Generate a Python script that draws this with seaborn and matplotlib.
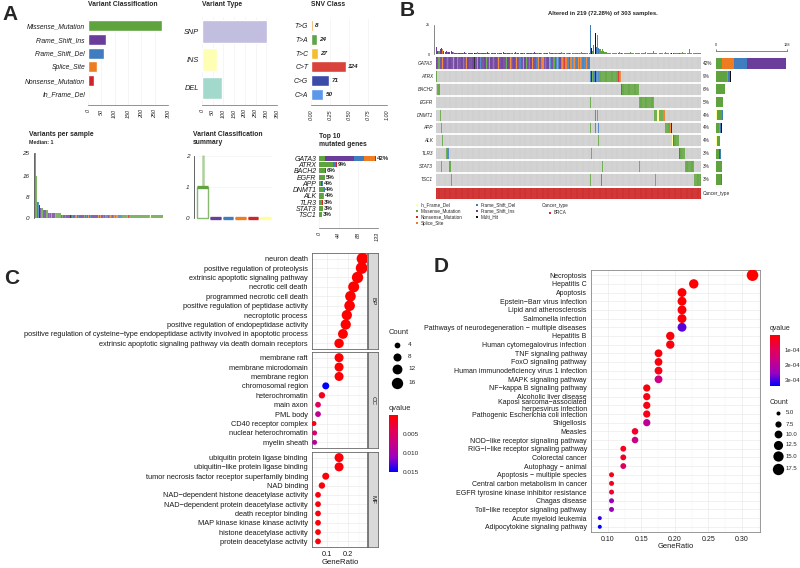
import numpy as np
import matplotlib
matplotlib.use("Agg")
import matplotlib.pyplot as plt
from matplotlib.colors import ListedColormap, LinearSegmentedColormap, Normalize
from matplotlib.cm import ScalarMappable
from matplotlib.ticker import MultipleLocator
import seaborn as sns

sns.set_style("white")
plt.rcParams["font.family"] = ["Liberation Sans", "DejaVu Sans"]
plt.rcParams["axes.linewidth"] = 0.5

W, H = 800, 568

# ---------------- A: MAF summary ----------------
vc_classes = ["Missense_Mutation", "Frame_Shift_Ins", "Frame_Shift_Del",
              "Splice_Site", "Nonsense_Mutation", "In_Frame_Del"]
vc_counts = [277, 67, 60, 34, 22, 6]

vt_types = ["SNP", "INS", "DEL"]
vt_counts = [303, 68, 93]

snv_classes = ["T>G", "T>A", "T>C", "C>T", "C>G", "C>A"]
snv_counts = [8, 24, 27, 124, 71, 50]
snv_fraction = [0.026, 0.079, 0.089, 0.46, 0.234, 0.164]

# variant classification summary (per-sample box stats)
box_q1 = [0, 0, 0, 0, 0, 0]
box_med = [1, 0, 0, 0, 0, 0]
box_q3 = [1, 0, 0, 0, 0, 0]
box_hi = [2, 0, 0, 0, 0, 0]

top_genes = ["GATA3", "ATRX", "BACH2", "EGFR", "APP", "DNMT1", "ALK", "TLR3", "STAT3", "TSC1"]
top_pct = ["42%", "9%", "6%", "5%", "4%", "4%", "4%", "3%", "3%", "3%"]
top_missense = [13, 32, 13, 13, 5, 11, 9, 7, 8, 7]
top_fs_ins = [66, 0, 0, 0, 2, 0, 0, 0, 0, 0]
top_fs_del = [23, 5, 0, 0, 2, 1, 0, 0, 0, 0]
top_splice = [25, 0, 0, 0, 0, 0, 2, 0, 0, 0]
top_nonsense = [2, 4, 2, 0, 0, 0, 0, 1, 0, 0]

# ---------------- B: oncoplot ----------------
onco_genes = ["GATA3", "ATRX", "BACH2", "EGFR", "DNMT1", "APP", "ALK", "TLR3", "STAT3", "TSC1"]
onco_pct = ["42%", "9%", "6%", "5%", "4%", "4%", "4%", "3%", "3%", "3%"]
# G missense, P fs_ins, B fs_del, O splice, R nonsense, Y in_frame_del, M multi_hit
onco_blocks = [
    "PPGPPOPPPB" "PPPPOPPGPP" "PPBPPOPPPP" "PMPPOPBPPP" "PGPPOPPBPP"
    "POPPPPPPGP" "POBPPPOPPB" "PPOPGPPBPO" "PPPBOPPGOP" "BPPOBPPGPB"
    "OBPGOBROBB" "POBGOBBOBO" "GBBBOBB",
    "BMGBMBGBGGGGGGGGGGGGGGGRGO",
    "RGGGGGGGGGGGGGG",
    "GGGGGGGGGGGG",
    "GGGYGGGGO",
    "GGGGOM",
    "YRGGGG",
    "RGGGG",
    "GGGGGGG",
    "GGGGGG",
]
onco_extra = [
    [],
    [(0, "G")],
    [(1, "G"), (2, "G")],
    [(127, "G")],
    [(3, "G"), (131, "B"), (133, "G")],
    [(4, "G"), (127, "G"), (131, "B"), (134, "B")],
    [(5, "G"), (134, "G")],
    [(8, "G"), (9, "B"), (10, "B"), (128, "G")],
    [(4, "G"), (11, "G"), (137, "G"), (168, "G")],
    [(12, "G"), (127, "G"), (136, "B"), (181, "G")],
]
total_samples = 303
# variants per sample, in oncoplot column order, as (value, repeat)
tmb_runs = [(6, 1), (3, 2), (4, 1), (5, 1), (4, 1), (3, 1), (2, 1), (3, 1), (2, 3), (3, 1), (2, 2),
            (1, 8), (2, 1), (1, 10), (2, 1), (1, 7), (2, 1), (1, 12), (2, 1), (1, 9), (2, 1),
            (1, 15), (2, 1), (1, 11), (2, 1), (1, 9), (2, 1), (1, 16), (2, 1), (1, 6),
            (25, 1), (5, 1), (3, 1), (8, 1), (18, 1), (6, 1), (16, 1), (5, 1), (4, 1), (3, 1),
            (4, 1), (3, 1), (2, 2),
            (1, 10), (2, 1), (1, 8), (2, 1), (1, 12), (2, 1), (1, 5), (3, 1), (1, 9), (2, 1),
            (1, 13), (2, 1), (1, 5), (4, 1), (1, 9)]

# ---------------- C: GO enrichment ----------------
bp_terms = ["neuron death", "positive regulation of proteolysis",
            "extrinsic apoptotic signaling pathway", "necrotic cell death",
            "programmed necrotic cell death", "positive regulation of peptidase activity",
            "necroptotic process", "positive regulation of endopeptidase activity",
            "positive regulation of cysteine\u2212type endopeptidase activity involved in apoptotic process",
            "extrinsic apoptotic signaling pathway via death domain receptors"]
bp_ratio = [0.266, 0.262, 0.243, 0.225, 0.21, 0.206, 0.193, 0.188, 0.175, 0.157]
bp_count = [17, 17, 16, 15, 14, 14, 13, 13, 12, 11]
bp_q = [1e-6, 1e-6, 1e-6, 1e-6, 1e-6, 1e-6, 1e-6, 1e-6, 1e-6, 1e-6]

cc_terms = ["membrane raft", "membrane microdomain", "membrane region", "chromosomal region",
            "heterochromatin", "main axon", "PML body", "CD40 receptor complex",
            "nuclear heterochromatin", "myelin sheath"]
cc_ratio = [0.157, 0.157, 0.157, 0.095, 0.077, 0.059, 0.059, 0.040, 0.043, 0.043]
cc_count = [10, 10, 10, 6, 5, 4, 4, 3, 3, 3]
cc_q = [2e-4, 2e-4, 2e-4, 0.0151, 0.0015, 0.0045, 0.0083, 0.0008, 0.005, 0.009]

mf_terms = ["ubiquitin protein ligase binding", "ubiquitin\u2212like protein ligase binding",
            "tumor necrosis factor receptor superfamily binding", "NAD binding",
            "NAD\u2212dependent histone deacetylase activity",
            "NAD\u2212dependent protein deacetylase activity", "death receptor binding",
            "MAP kinase kinase kinase activity", "histone deacetylase activity",
            "protein deacetylase activity"]
mf_ratio = [0.157, 0.157, 0.095, 0.077, 0.059, 0.059, 0.059, 0.059, 0.059, 0.059]
mf_count = [10, 10, 6, 5, 4, 4, 4, 4, 4, 4]
mf_q = [5e-4, 5e-4, 5e-4, 5e-4, 5e-4, 5e-4, 5e-4, 5e-4, 5e-4, 5e-4]

# ---------------- D: KEGG enrichment ----------------
kegg_terms = ["Necroptosis", "Hepatitis C", "Apoptosis", "Epstein\u2212Barr virus infection",
              "Lipid and atherosclerosis", "Salmonella infection",
              "Pathways of neurodegeneration \u2212 multiple diseases", "Hepatitis B",
              "Human cytomegalovirus infection", "TNF signaling pathway", "FoxO signaling pathway",
              "Human immunodeficiency virus 1 infection", "MAPK signaling pathway",
              "NF\u2212kappa B signaling pathway", "Alcoholic liver disease",
              "Kaposi sarcoma\u2212associated\nherpesvirus infection",
              "Pathogenic Escherichia coli infection", "Shigellosis", "Measles",
              "NOD\u2212like receptor signaling pathway", "RIG\u2212I\u2212like receptor signaling pathway",
              "Colorectal cancer", "Autophagy \u2212 animal", "Apoptosis \u2212 multiple species",
              "Central carbon metabolism in cancer", "EGFR tyrosine kinase inhibitor resistance",
              "Chagas disease", "Toll\u2212like receptor signaling pathway",
              "Acute myeloid leukemia", "Adipocytokine signaling pathway"]
kegg_count = [18, 13, 12, 12, 12, 12, 12, 11, 11, 10, 10, 10, 10, 9, 9, 9, 9, 9, 8, 8,
              7, 7, 7, 6, 6, 6, 6, 6, 5, 5]
kegg_q = [0.0, 0.05e-4, 0.05e-4, 0.05e-4, 0.1e-4, 0.1e-4, 2.9e-4, 0.1e-4, 0.15e-4, 0.1e-4,
          0.15e-4, 0.2e-4, 1.6e-4, 0.1e-4, 0.2e-4, 0.2e-4, 0.25e-4, 1.9e-4, 0.5e-4, 1.6e-4,
          0.3e-4, 0.4e-4, 1.1e-4, 0.2e-4, 0.4e-4, 0.6e-4, 2.5e-4, 2.5e-4, 3.1e-4, 3.41e-4]
kegg_total = 57  # GeneRatio = Count / 57

# ---------------- colours ----------------
mut_colors = {"Missense_Mutation": "#5FA33E", "Frame_Shift_Ins": "#6A3D9A",
              "Frame_Shift_Del": "#3F7DBF", "Splice_Site": "#EE7D22",
              "Nonsense_Mutation": "#D3232A", "In_Frame_Del": "#FFFF99", "Multi_Hit": "#111111"}
code_class = {"G": "Missense_Mutation", "P": "Frame_Shift_Ins", "B": "Frame_Shift_Del",
              "O": "Splice_Site", "R": "Nonsense_Mutation", "Y": "In_Frame_Del", "M": "Multi_Hit"}
codes = "GPBORYM"
cmap_rb = LinearSegmentedColormap.from_list(
    "rb", ["#FF0000", "#E7004F", "#C80088", "#9900C2", "#0000FF"])

fig = plt.figure(figsize=(8, 5.68), dpi=100)


def px_axes(x0, y0, x1, y1):
    return fig.add_axes([x0 / W, 1 - y1 / H, (x1 - x0) / W, (y1 - y0) / H])


ov = fig.add_axes([0, 0, 1, 1], zorder=10)
ov.set_xlim(0, W)
ov.set_ylim(H, 0)
ov.axis("off")


def txt(x, y, s, size=5, **kw):
    kw.setdefault("va", "center")
    ov.text(x, y, s, fontsize=size, **kw)


def maf_style(ax, ticks, labels):
    for s in ["top", "right", "left"]:
        ax.spines[s].set_visible(False)
    ax.spines["bottom"].set_color("#666666")
    ax.set_xticks(ticks)
    ax.set_xticklabels(labels, rotation=90, fontstyle="italic", fontsize=4)
    ax.tick_params(axis="x", length=2, width=0.5, pad=1, colors="#222222")
    ax.tick_params(axis="y", length=0, pad=2)
    ax.grid(axis="x", color="#EEEEEE", lw=0.4)
    ax.set_axisbelow(True)
    ax.set_xlabel("")
    ax.set_ylabel("")


# ======== A row 1 ========
ax = px_axes(88, 19, 168, 105)
sns.barplot(x=vc_counts, y=vc_classes, hue=vc_classes,
            palette=[mut_colors[c] for c in vc_classes], legend=False,
            orient="h", width=0.8, saturation=1, ax=ax)
ax.set_xlim(0, 300)
ax.set_ylim(5.8, -0.5)
maf_style(ax, range(0, 301, 50), [str(v) for v in range(0, 301, 50)])
ax.set_yticks(range(len(vc_classes)))
ax.set_yticklabels(vc_classes, fontstyle="italic", fontsize=4.9, color="#1a1a1a")
txt(88, 5, "Variant Classification", 4.9, fontweight="bold")

ax = px_axes(202, 17, 277, 105)
sns.barplot(x=vt_counts, y=vt_types, hue=vt_types,
            palette=["#C2BEDF", "#FFFFB3", "#A3D9CC"], legend=False,
            orient="h", width=0.8, saturation=1, ax=ax)
ax.set_xlim(0, 350)
ax.set_ylim(2.6, -0.5)
maf_style(ax, range(0, 351, 50), [str(v) for v in range(0, 351, 50)])
ax.set_yticks(range(len(vt_types)))
ax.set_yticklabels(vt_types, fontstyle="italic", fontsize=5.3, color="#1a1a1a")
txt(202, 5, "Variant Type", 4.9, fontweight="bold")

ax = px_axes(311, 19, 387, 105)
sns.barplot(x=snv_fraction, y=snv_classes, hue=snv_classes,
            palette=["#EF9A2E", "#5FA34A", "#F4BE30", "#D9423A", "#3C4BA8", "#5A98EA"],
            legend=False, orient="h", width=0.8, saturation=1, ax=ax)
ax.set_xlim(0, 1)
ax.set_ylim(5.8, -0.5)
maf_style(ax, [0, 0.25, 0.5, 0.75, 1.0], ["0.00", "0.25", "0.50", "0.75", "1.00"])
ax.set_yticks(range(len(snv_classes)))
ax.set_yticklabels(snv_classes, fontstyle="italic", fontsize=4.9, color="#1a1a1a")
for i, (f, c) in enumerate(zip(snv_fraction, snv_counts)):
    ax.text(f + 0.03, i, str(c), va="center", fontsize=4.6,
            fontweight="bold", fontstyle="italic")
txt(311, 5, "SNV Class", 4.9, fontweight="bold")

# ======== B data assembly ========
block_lengths = [len(b) for b in onco_blocks]
n_samples = sum(block_lengths)
code_idx = {c: i + 1 for i, c in enumerate(codes)}
mat = np.zeros((len(onco_genes), n_samples))
start = 0
for gi, block in enumerate(onco_blocks):
    for j, ch in enumerate(block):
        mat[gi, start + j] = code_idx[ch]
    start += len(block)
for gi, extra in enumerate(onco_extra):
    for col, ch in extra:
        mat[gi, col] = code_idx[ch]

tmb = np.array([v for v, r in tmb_runs for _ in range(r)])
sample_colors = []
for j in range(n_samples):
    nz = np.nonzero(mat[:, j])[0]
    sample_colors.append(mut_colors[code_class[codes[int(mat[nz[0], j]) - 1]]])
sample_colors = np.array(sample_colors)

# ======== A row 2 ========
order = np.argsort(-tmb, kind="stable")
ax = px_axes(35, 153, 163, 218)
ax.bar(np.arange(n_samples), tmb[order], width=1.0, color=sample_colors[order], lw=0, alpha=0.8)
ax.set_xlim(-0.5, n_samples - 0.5)
ax.set_ylim(0, 25)
for s in ["top", "right", "bottom"]:
    ax.spines[s].set_visible(False)
ax.spines["left"].set_position(("outward", 1))
ax.set_xticks([])
ax.set_yticks([0, 8, 16, 25])
ax.set_yticklabels(["0", "8", "16", "25"], fontstyle="italic", fontsize=4.6)
ax.tick_params(axis="y", length=2, width=0.5, pad=1)
txt(29, 134, "Variants per sample", 4.9, fontweight="bold")
txt(29, 143, f"Median: {int(np.median(tmb))}", 3.8, fontweight="bold")

ax = px_axes(196.5, 156, 272, 218)
for i, cls in enumerate(vc_classes):
    col = mut_colors[cls]
    st = dict(med=box_med[i], q1=box_q1[i], q3=box_q3[i], whislo=box_q1[i],
              whishi=box_hi[i], fliers=[])
    parts = ax.bxp([st], positions=[i], widths=0.85, showfliers=False, showcaps=False,
                   patch_artist=True,
                   boxprops=dict(facecolor="white", edgecolor=col, lw=1.0),
                   whiskerprops=dict(color=col, lw=1.8, alpha=0.5),
                   medianprops=dict(color=col, lw=2.4))
    for art in parts["boxes"] + parts["medians"] + parts["whiskers"]:
        art.set_clip_on(False)
    if box_q3[i] > box_q1[i]:
        parts["boxes"][0].set_alpha(0.75)
ax.set_xlim(-0.5, 5.5)
ax.set_ylim(0, 2)
for s in ["top", "right", "bottom"]:
    ax.spines[s].set_visible(False)
ax.spines["left"].set_position(("outward", 2))
ax.set_xticks([])
ax.set_yticks([0, 1, 2])
ax.set_yticklabels(["0", "1", "2"], fontstyle="italic", fontsize=4.6)
ax.tick_params(axis="y", length=2, width=0.5, pad=1)
ax.grid(axis="both", color="#F2F2F2", lw=0.4)
ax.set_axisbelow(True)
txt(193, 134, "Variant Classification", 4.9, fontweight="bold")
txt(193, 143, "summary", 4.9, fontweight="bold")

ax = px_axes(319.3, 155, 377.7, 227.5)
left = np.zeros(len(top_genes))
for cls, vals in zip(["Missense_Mutation", "Frame_Shift_Ins", "Frame_Shift_Del",
                      "Splice_Site", "Nonsense_Mutation"],
                     [top_missense, top_fs_ins, top_fs_del, top_splice, top_nonsense]):
    ax.barh(np.arange(len(top_genes)), vals, left=left, height=0.8,
            color=mut_colors[cls], lw=0)
    left += np.array(vals)
for i, p in enumerate(top_pct):
    ax.text(left[i] + 1.5, i, p, fontsize=4.4, fontweight="bold", va="center")
ax.set_xlim(0, 133)
ax.set_ylim(11, -0.5)
maf_style(ax, [0, 44, 88, 133], ["0", "44", "88", "133"])
ax.set_yticks(range(len(top_genes)))
ax.set_yticklabels(top_genes, fontstyle="italic", fontsize=5, color="#1a1a1a")
txt(319, 136, "Top 10", 4.9, fontweight="bold")
txt(319, 145, "mutated genes", 4.9, fontweight="bold")

# ======== B ========
ax = px_axes(436, 57, 701, 186)
sns.heatmap(mat, cmap=ListedColormap(["#CDCDCD"] + [mut_colors[code_class[c]] for c in codes]),
            vmin=-0.5, vmax=7.5, cbar=False, xticklabels=False, yticklabels=False, ax=ax)
ax.vlines(np.arange(1, n_samples), 0, len(onco_genes), color="white", lw=0.2, alpha=0.5)
for y in range(1, len(onco_genes)):
    ax.axhline(y, color="white", lw=1.3)
for i, (g, p) in enumerate(zip(onco_genes, onco_pct)):
    yy = 57 + (186 - 57) / len(onco_genes) * (i + 0.5)
    txt(433, yy, g, 3.4, ha="right", fontstyle="italic")
    txt(703, yy, p, 3.4, ha="left")

ax = px_axes(436, 25, 701, 54)
ax.bar(np.arange(n_samples) + 0.5, tmb, width=0.9, color=sample_colors, lw=0)
ax.set_xlim(0, n_samples)
ax.set_ylim(0, 25)
for s in ["top", "right", "bottom"]:
    ax.spines[s].set_visible(False)
ax.spines["left"].set_position(("outward", 1.5))
ax.spines["left"].set_color("#555555")
ax.set_xticks([])
ax.set_yticks([0, 25])
ax.tick_params(axis="y", labelsize=2.8, length=1.5, width=0.4, pad=1)

ax = px_axes(716, 57, 787, 186)
left = np.zeros(len(onco_genes))
for c in "YGROBPM":
    vals = (mat == code_idx[c]).sum(axis=1)
    ax.barh(np.arange(len(onco_genes)) + 0.5, vals, left=left, height=0.8,
            color=mut_colors[code_class[c]], lw=0)
    left += vals
ax.set_xlim(0, 128)
ax.set_ylim(len(onco_genes), 0)
for s in ["right", "bottom", "left"]:
    ax.spines[s].set_visible(False)
ax.spines["top"].set_position(("outward", 4.5))
ax.spines["top"].set_color("#555555")
ax.xaxis.tick_top()
ax.set_xticks([0, 128])
ax.set_yticks([])
ax.tick_params(axis="x", labelsize=2.8, length=1.5, width=0.4, pad=1)

ax = px_axes(436, 188, 701, 199)
sns.heatmap(np.ones((1, n_samples)), cmap=ListedColormap(["#CF2A2A"]), cbar=False,
            xticklabels=False, yticklabels=False, ax=ax)
ax.vlines(np.arange(1, n_samples), 0, 1, color="white", lw=0.2, alpha=0.25)
txt(703, 193.5, "Cancer_type", 3.4)

pct_alt = n_samples / total_samples * 100
txt(603, 14, f"Altered in {n_samples} ({pct_alt:.2f}%) of {total_samples} samples.",
    4.2, fontweight="bold", ha="center")

for k, c in enumerate("YGRO"):
    ov.scatter(417, 205 + 6 * k, s=2.5, marker="s", color=mut_colors[code_class[c]], lw=0)
    txt(421, 205 + 6 * k, code_class[c], 3.3)
for k, c in enumerate("BPM"):
    ov.scatter(477, 205 + 6 * k, s=2.5, marker="s", color=mut_colors[code_class[c]], lw=0)
    txt(481, 205 + 6 * k, code_class[c], 3.3)
txt(542, 205, "Cancer_type", 3.3)
ov.scatter(550, 212.5, s=2.5, marker="s", color="#CF2A2A", lw=0)
txt(554, 212.5, "BRCA", 3.3)

# ======== C ========
c_norm = Normalize(0, 0.0151)
c_sizes, c_snorm = (13, 71), (3, 17)
facets = [("BP", bp_terms, bp_ratio, bp_count, bp_q, 253, 349),
          ("CC", cc_terms, cc_ratio, cc_count, cc_q, 352, 448),
          ("MF", mf_terms, mf_ratio, mf_count, mf_q, 452, 547)]
for fi, (lab, terms, ratio, cnt, q, y0, y1) in enumerate(facets):
    ax = px_axes(312, y0, 367, y1)
    sns.scatterplot(x=ratio, y=terms, hue=q, size=cnt, palette=cmap_rb, hue_norm=c_norm,
                    sizes=c_sizes, size_norm=c_snorm, legend=False, linewidth=0, ax=ax,
                    zorder=3)
    ax.set_xlim(0.031, 0.287)
    ax.set_ylim(len(terms) - 0.4, -0.6)
    ax.xaxis.set_major_locator(MultipleLocator(0.1))
    ax.xaxis.set_minor_locator(MultipleLocator(0.05))
    ax.grid(which="major", color="#EBEBEB", lw=0.5)
    ax.grid(which="minor", axis="x", color="#F4F4F4", lw=0.3)
    ax.set_axisbelow(True)
    for s in ax.spines.values():
        s.set_color("#666666")
        s.set_linewidth(0.6)
    ax.tick_params(axis="y", labelsize=5.3, length=2, width=0.4, pad=1, colors="#1a1a1a")
    ax.tick_params(axis="x", labelsize=5.3, length=2, width=0.4, pad=1, colors="#1a1a1a",
                   labelbottom=(fi == 2))
    ax.set_xlabel("")
    ax.set_ylabel("")
    sa = px_axes(367.5, y0, 378, y1)
    sa.set_facecolor("#D9D9D9")
    sa.set_xticks([])
    sa.set_yticks([])
    for s in sa.spines.values():
        s.set_color("#666666")
        s.set_linewidth(0.6)
    sa.text(0.5, 0.5, lab, rotation=270, ha="center", va="center", fontsize=4.5,
            transform=sa.transAxes, color="#1a1a1a")
txt(340, 563, "GeneRatio", 5.6, ha="center", color="#1a1a1a")


def c_size(v):
    return c_sizes[0] + (v - c_snorm[0]) / (c_snorm[1] - c_snorm[0]) * (c_sizes[1] - c_sizes[0])


txt(389, 332, "Count", 5.4)
for v, yy in zip([4, 8, 12, 16], [345, 357, 369, 383]):
    ov.scatter(397, yy, s=c_size(v), color="black", lw=0)
    txt(408, yy, str(v), 4.6)
txt(389, 408, "qvalue", 5.4)
cax = px_axes(389, 415, 398, 472)
cb = fig.colorbar(ScalarMappable(norm=c_norm, cmap=cmap_rb), cax=cax)
cb.outline.set_visible(False)
cax.invert_yaxis()
cb.set_ticks([0.005, 0.010, 0.015])
cb.set_ticklabels(["0.005", "0.010", "0.015"])
cax.tick_params(labelsize=4.6, length=2, color="white", width=0.5, pad=1.5)

# ======== D ========
d_norm = Normalize(0, 3.41e-4)
d_sizes, d_snorm = (8.3, 69), (5, 18)
kegg_ratio = np.array(kegg_count) / kegg_total
ax = px_axes(591, 270, 760, 532)
sns.scatterplot(x=kegg_ratio, y=kegg_terms, hue=kegg_q, size=kegg_count, palette=cmap_rb,
                hue_norm=d_norm, sizes=d_sizes, size_norm=d_snorm, legend=False,
                linewidth=0, ax=ax, zorder=3)
ax.set_xlim(0.0746, 0.327)
ax.set_ylim(len(kegg_terms) - 0.4, -0.6)
ax.xaxis.set_major_locator(MultipleLocator(0.05))
ax.xaxis.set_minor_locator(MultipleLocator(0.025))
ax.xaxis.set_major_formatter(plt.FuncFormatter(lambda v, p: f"{v:.2f}"))
ax.grid(which="major", color="#EBEBEB", lw=0.5)
ax.grid(which="minor", axis="x", color="#F4F4F4", lw=0.3)
ax.set_axisbelow(True)
for s in ax.spines.values():
    s.set_color("#888888")
    s.set_linewidth(0.6)
ax.tick_params(axis="y", labelsize=5, length=2, width=0.4, pad=1, colors="#1a1a1a")
ax.tick_params(axis="x", labelsize=5, length=2, width=0.4, pad=1, colors="#1a1a1a")
for t in ax.get_yticklabels():
    if "\n" in t.get_text():
        t.set_linespacing(0.85)
ax.set_xlabel("")
ax.set_ylabel("")
txt(676, 547, "GeneRatio", 5.4, ha="center", color="#1a1a1a")

txt(770, 329, "qvalue", 5)
cax = px_axes(770, 335, 780, 386)
cb = fig.colorbar(ScalarMappable(norm=d_norm, cmap=cmap_rb), cax=cax)
cb.outline.set_visible(False)
cax.invert_yaxis()
cb.set_ticks([1e-4, 2e-4, 3e-4])
cb.set_ticklabels(["1e-04", "2e-04", "3e-04"])
cax.tick_params(labelsize=4.3, length=2, color="white", width=0.5, pad=1.5)


def d_size(v):
    return d_sizes[0] + (v - d_snorm[0]) / (d_snorm[1] - d_snorm[0]) * (d_sizes[1] - d_sizes[0])


txt(770, 403, "Count", 5)
for v, yy in zip([5, 7.5, 10, 12.5, 15, 17.5], [413, 424, 434, 445, 456, 469]):
    ov.scatter(778, yy, s=d_size(v), color="black", lw=0)
    txt(786, yy, f"{v:.1f}", 4.3)

# panel letters
txt(10.5, 14.5, "A", 15, fontweight="bold", ha="center")
txt(407.5, 10.5, "B", 15, fontweight="bold", ha="center")
txt(12, 278, "C", 15, fontweight="bold", ha="center")
txt(441, 267, "D", 15, fontweight="bold", ha="center")

fig.savefig("out.png", dpi=100)
